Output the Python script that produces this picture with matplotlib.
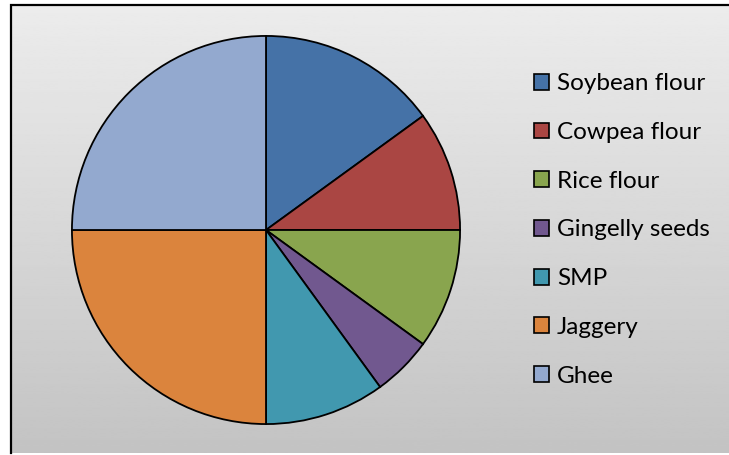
import numpy as np
import matplotlib.pyplot as plt

# pie shares (percent), starting at 12 o'clock, clockwise
labels = ['Soybean flour', 'Cowpea flour', 'Rice flour', 'Gingelly seeds', 'SMP', 'Jaggery', 'Ghee']
shares = [15, 10, 10, 5, 10, 25, 25]
colors = ['#4572a7', '#aa4643', '#89a54e', '#71588f', '#4198af', '#db843d', '#93a9cf']

W, H = 729, 455
fig = plt.figure(figsize=(W / 100, H / 100), dpi=100)
fig.patch.set_facecolor('white')

# chart area with vertical grey gradient
bg = fig.add_axes([11 / W, 2 / H, (W - 11) / W, (H - 7) / H])
grad = np.linspace(0.925, 0.765, 256).reshape(-1, 1)
bg.imshow(grad, aspect='auto', cmap='gray', vmin=0, vmax=1, extent=[0, 1, 0, 1])
bg.set_xlim(0, 1)
bg.set_ylim(0, 1)
bg.axis('off')
# only left and top edges of the frame are visible
bg.plot([0, 0, 1.05], [0, 1, 1], color='black', linewidth=1.6, clip_on=False,
        solid_joinstyle='miter')

# pie
ax = fig.add_axes([70 / W, (H - 426) / H, 392 / W, 392 / H])
wedges, _ = ax.pie(shares, colors=colors, startangle=90, counterclock=False, radius=1,
                   wedgeprops=dict(edgecolor='black', linewidth=1.3))
ax.set_xlim(-1.01, 1.01)
ax.set_ylim(-1.01, 1.01)
ax.set_aspect('equal')
ax.axis('off')

plt.rcParams['font.family'] = ['Lato', 'DejaVu Sans']
fs = 17.5
leg = fig.legend(wedges, labels, loc='center left', bbox_to_anchor=(534 / W, (H - 230) / H),
                 frameon=False, fontsize=fs, handlelength=0.62, handleheight=0.62,
                 handletextpad=0.33, labelspacing=1.14, borderaxespad=0, borderpad=0)
for h in leg.legend_handles:
    h.set_edgecolor('black')
    h.set_linewidth(1.2)

fig.savefig('out.png', dpi=100)
